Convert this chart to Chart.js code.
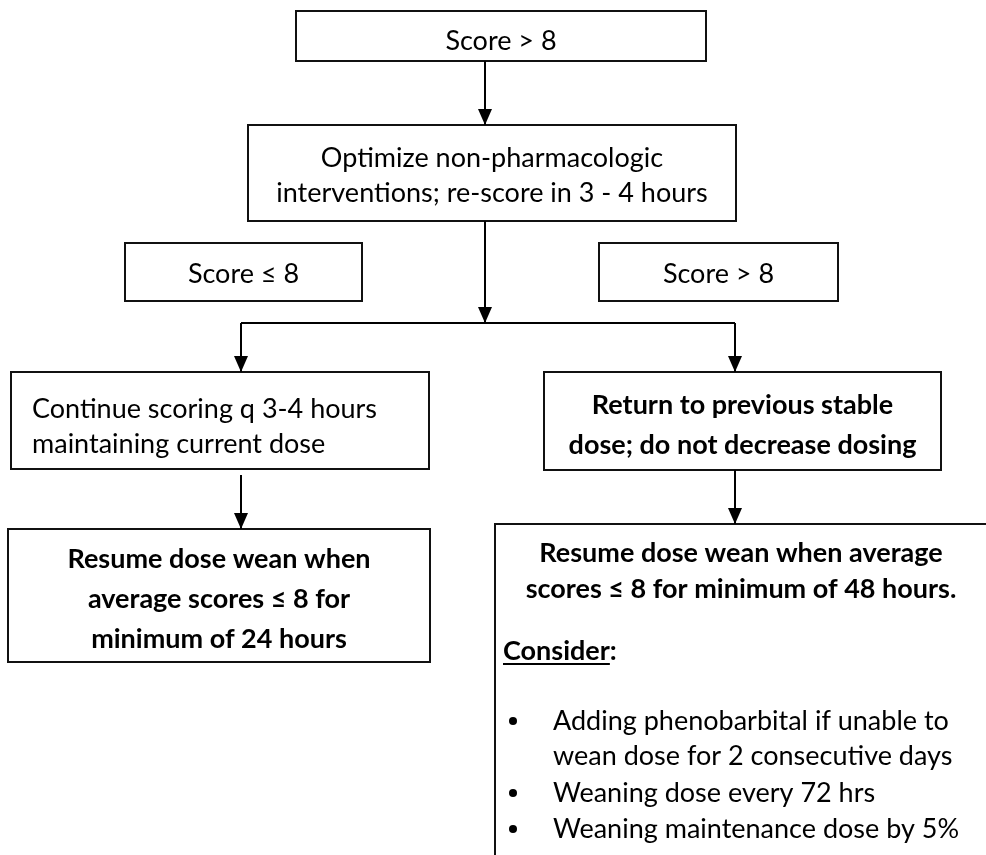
<!DOCTYPE html>
<html>
<head>
<meta charset="utf-8">
<script src="https://cdn.jsdelivr.net/npm/chart.js@4.4.0/dist/chart.umd.min.js"></script>
<style>
  html, body { margin: 0; padding: 0; background: #fff; }
  #wrap { width: 986px; height: 855px; }
</style>
</head>
<body>
<div id="wrap"><canvas id="myChart"></canvas></div>
<script>
// text of each step in the flow
var stepText = [
  ['Score > 8'],
  ['Optimize non-pharmacologic', 'interventions; re-score in 3 - 4 hours'],
  ['Score \u2264 8'],
  ['Score > 8'],
  ['Continue scoring q 3-4 hours', 'maintaining current dose'],
  ['Return to previous stable', 'dose; do not decrease dosing'],
  ['Resume dose wean when', 'average scores \u2264 8 for', 'minimum of 24 hours'],
  ['Resume dose wean when average', 'scores \u2264 8 for minimum of 48 hours.']
];
var considerLabel = 'Consider';
var considerItems = [
  ['Adding phenobarbital if unable to', 'wean dose for 2 consecutive days'],
  ['Weaning dose every 72 hrs'],
  ['Weaning maintenance dose by 5%']
];

// layout, in axis units (the axes span the page)
var W = 986, H = 855;
var FONT = 'Lato';
var SIZE = 27;
var boxes = [
  { x0: 296, x1: 706, y0: 11,  y1: 61,  base: 50,  lh: 35, align: 'center' },
  { x0: 248, x1: 736, y0: 125, y1: 221, base: 167, lh: 35, align: 'center' },
  { x0: 125, x1: 362, y0: 243, y1: 301, base: 283, lh: 35, align: 'center' },
  { x0: 599, x1: 838, y0: 243, y1: 301, base: 283, lh: 35, align: 'center' },
  { x0: 11,  x1: 429, y0: 372, y1: 469, base: 418, lh: 35, align: 'left', tx: 32 },
  { x0: 544, x1: 941, y0: 372, y1: 470, base: 414, lh: 40, align: 'center', bold: true },
  { x0: 8,   x1: 430, y0: 529, y1: 662, base: 568, lh: 40, align: 'center', bold: true },
  { x0: 495, x1: 990, y0: 524, y1: 870, base: 562, lh: 36, align: 'center', bold: true, cx: 741 }
];
var joinY = 323;
var connectors = [
  { pts: [[485, 61], [485, 125]], arrow: true },
  { pts: [[485, 221], [485, joinY]], arrow: true },
  { pts: [[241, joinY], [735, joinY]], arrow: false },
  { pts: [[241, joinY], [241, 372]], arrow: true },
  { pts: [[735, joinY], [735, 372]], arrow: true },
  { pts: [[241, 475], [241, 529]], arrow: true },
  { pts: [[735, 470], [735, 524]], arrow: true }
];
var consider = { x: 503, base: 660, bulletX: 513, textX: 553, lines: [730, 765, 802, 838] };

var datasets = connectors.map(function (c) {
  return {
    data: c.pts.map(function (p) { return { x: p[0], y: p[1] }; }),
    showLine: true,
    borderColor: '#000',
    borderWidth: 2,
    pointRadius: 0
  };
});

var flowPlugin = {
  id: 'flow',
  beforeDatasetsDraw: function (chart) {
    var ctx = chart.ctx, sx = chart.scales.x, sy = chart.scales.y;
    ctx.save();
    boxes.forEach(function (b) {
      var x0 = sx.getPixelForValue(b.x0), x1 = sx.getPixelForValue(b.x1);
      var y0 = sy.getPixelForValue(b.y0), y1 = sy.getPixelForValue(b.y1);
      ctx.fillStyle = '#fff';
      ctx.fillRect(x0, y0, x1 - x0, y1 - y0);
      ctx.strokeStyle = '#111';
      ctx.lineWidth = 2;
      ctx.strokeRect(x0, y0, x1 - x0, y1 - y0);
    });
    ctx.restore();
  },
  afterDatasetsDraw: function (chart) {
    var ctx = chart.ctx, sx = chart.scales.x, sy = chart.scales.y;
    ctx.save();
    // arrow heads
    ctx.fillStyle = '#000';
    connectors.forEach(function (c) {
      if (!c.arrow) return;
      var p = c.pts[c.pts.length - 1];
      var tx = sx.getPixelForValue(p[0]), ty = sy.getPixelForValue(p[1]);
      ctx.beginPath();
      ctx.moveTo(tx, ty);
      ctx.lineTo(tx - 7, ty - 16);
      ctx.lineTo(tx + 7, ty - 16);
      ctx.closePath();
      ctx.fill();
    });
    // step texts
    ctx.fillStyle = '#000';
    ctx.textBaseline = 'alphabetic';
    stepText.forEach(function (lines, i) {
      var b = boxes[i];
      ctx.font = (b.bold ? 'bold ' : '') + SIZE + 'px ' + FONT;
      var x;
      if (b.align === 'left') {
        ctx.textAlign = 'left';
        x = sx.getPixelForValue(b.tx);
      } else {
        ctx.textAlign = 'center';
        x = sx.getPixelForValue(b.cx !== undefined ? b.cx : (b.x0 + b.x1) / 2);
      }
      lines.forEach(function (t, k) {
        ctx.fillText(t, x, sy.getPixelForValue(b.base + k * b.lh));
      });
    });
    // "Consider:" heading
    ctx.textAlign = 'left';
    ctx.font = 'bold ' + SIZE + 'px ' + FONT;
    var cx = sx.getPixelForValue(consider.x), cy = sy.getPixelForValue(consider.base);
    ctx.fillText(considerLabel, cx, cy);
    var wLabel = ctx.measureText(considerLabel).width;
    ctx.fillText(':', cx + wLabel, cy);
    ctx.fillRect(cx, cy + 3, wLabel, 2);
    // bullet list
    ctx.font = SIZE + 'px ' + FONT;
    var row = 0;
    considerItems.forEach(function (item) {
      item.forEach(function (t, k) {
        var y = sy.getPixelForValue(consider.lines[row]);
        if (k === 0) {
          ctx.beginPath();
          ctx.arc(sx.getPixelForValue(consider.bulletX), y - 9, 4, 0, Math.PI * 2);
          ctx.fill();
        }
        ctx.fillText(t, sx.getPixelForValue(consider.textX), y);
        row++;
      });
    });
    ctx.restore();
  }
};

var ctx = document.getElementById('myChart').getContext('2d');
var chart = new Chart(ctx, {
  type: 'scatter',
  data: { datasets: datasets },
  options: {
    responsive: true,
    maintainAspectRatio: false,
    animation: false,
    layout: { padding: 0 },
    scales: {
      x: { type: 'linear', min: 0, max: W, display: false },
      y: { type: 'linear', min: 0, max: H, reverse: true, display: false }
    },
    plugins: { legend: { display: false }, tooltip: { enabled: false } }
  },
  plugins: [flowPlugin]
});
</script>
</body>
</html>
